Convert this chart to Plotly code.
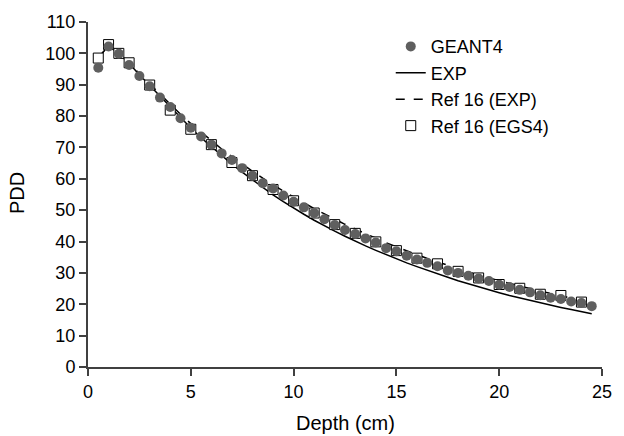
import plotly.graph_objects as go

depth_geant = [0.5, 1.0, 1.5, 2.0, 2.5, 3.0, 3.5, 4.0, 4.5, 5.0, 5.5, 6.0, 6.5, 7.0, 7.5, 8.0,
               8.5, 9.0, 9.5, 10.0, 10.5, 11.0, 11.5, 12.0, 12.5, 13.0, 13.5, 14.0, 14.5, 15.0,
               15.5, 16.0, 16.5, 17.0, 17.5, 18.0, 18.5, 19.0, 19.5, 20.0, 20.5, 21.0, 21.5,
               22.0, 22.5, 23.0, 23.5, 24.0, 24.5]
pdd_geant = [95.4, 102.2, 99.9, 96.3, 92.8, 89.5, 85.9, 82.9, 79.3, 76.3, 73.5, 70.9, 68.1, 66.0,
             63.4, 61.0, 58.6, 56.9, 54.7, 52.7, 50.9, 49.1, 47.1, 45.3, 43.7, 42.4, 41.0, 39.7,
             37.9, 36.9, 35.5, 34.3, 33.2, 32.1, 30.8, 30.0, 29.1, 28.2, 27.4, 26.2, 25.5, 24.6,
             23.8, 22.9, 22.1, 21.7, 20.9, 20.4, 19.4]

depth_exp = depth_geant
pdd_exp = [98.5, 102.5, 100.0, 96.8, 93.2, 89.8, 86.3, 82.8, 79.5, 76.2, 73.1, 70.2, 67.4, 64.7,
           62.1, 59.6, 57.2, 54.9, 52.7, 50.6, 48.7, 46.8, 45.0, 43.3, 41.7, 40.1, 38.6, 37.2,
           35.8, 34.5, 33.2, 32.0, 30.8, 29.7, 28.6, 27.5, 26.5, 25.5, 24.6, 23.7, 22.8, 22.0,
           21.2, 20.4, 19.7, 19.0, 18.3, 17.6, 17.0]

depth_ref_exp = depth_geant[:-1]
pdd_ref_exp = [98.5, 102.5, 100.0, 97.0, 93.5, 90.2, 87.0, 83.8, 80.6, 77.6, 74.8, 72.1, 69.5,
               67.1, 64.7, 62.4, 60.2, 58.1, 56.1, 54.2, 52.3, 50.5, 48.8, 47.1, 45.5, 44.0,
               42.5, 41.0, 39.6, 38.3, 37.0, 35.8, 34.6, 33.5, 32.4, 31.3, 30.3, 29.3, 28.4,
               27.5, 26.6, 25.8, 25.0, 24.2, 23.4, 22.7, 22.0, 21.3]

depth_egs = [0.5, 1, 1.5, 2, 3, 4, 5, 6, 7, 8, 9, 10, 11, 12, 13, 14, 15, 16, 17, 18, 19, 20,
             21, 22, 23, 24]
pdd_egs = [98.5, 102.8, 100.0, 97.0, 89.9, 81.9, 75.8, 70.9, 65.2, 61.0, 56.6, 53.0, 49.1,
           45.4, 42.6, 39.9, 37.1, 34.7, 32.9, 30.5, 28.4, 26.3, 25.1, 23.2, 22.8, 20.7]

x_ticks = [0, 5, 10, 15, 20, 25]
y_ticks = list(range(0, 111, 10))
x_title = "Depth (cm)"
y_title = "PDD"

FONT = "Liberation Sans, Arial, sans-serif"
AX = "#404040"

fig = go.Figure()
fig.add_trace(go.Scatter(x=depth_exp, y=pdd_exp, mode="lines", name="EXP",
                         line=dict(color="black", width=1.5), legendrank=2))
fig.add_trace(go.Scatter(x=depth_ref_exp, y=pdd_ref_exp, mode="lines", name="Ref 16 (EXP)",
                         line=dict(color="black", width=1.5, dash="dash"), legendrank=3))
fig.add_trace(go.Scatter(x=depth_egs, y=pdd_egs, mode="markers", name="Ref 16 (EGS4)",
                         marker=dict(symbol="square", size=10, color="white",
                                     line=dict(color="black", width=1)), legendrank=4))
fig.add_trace(go.Scatter(x=depth_geant, y=pdd_geant, mode="markers", name="GEANT4",
                         marker=dict(symbol="circle", size=10, color="#5f5f5f"), legendrank=1))

axis_common = dict(showgrid=False, zeroline=False, showline=True, linecolor=AX,
                   linewidth=2, ticks="outside", ticklen=7, tickwidth=2, tickcolor=AX,
                   mirror=False, layer="above traces")

fig.update_layout(
    width=624, height=436,
    margin=dict(l=88, r=15, t=15, b=69),
    paper_bgcolor="white", plot_bgcolor="white",
    font=dict(family=FONT, size=18, color="black"),
    legend=dict(x=0.589, y=0.982, xanchor="left", yanchor="top", bgcolor="rgba(0,0,0,0)",
                font=dict(size=18), tracegroupgap=0),
    xaxis=dict(range=[0, 25], tickvals=x_ticks, **axis_common),
    yaxis=dict(range=[0, 110], tickvals=y_ticks, **axis_common),
    annotations=[
        dict(text=x_title, xref="paper", yref="paper", x=0.5, y=-0.162,
             xanchor="center", yanchor="middle", showarrow=False, font=dict(size=20)),
        dict(text=y_title, xref="paper", yref="paper", x=-0.137, y=0.503, textangle=-90,
             xanchor="center", yanchor="middle", showarrow=False, font=dict(size=20)),
    ],
)

fig.write_html("out.html")
